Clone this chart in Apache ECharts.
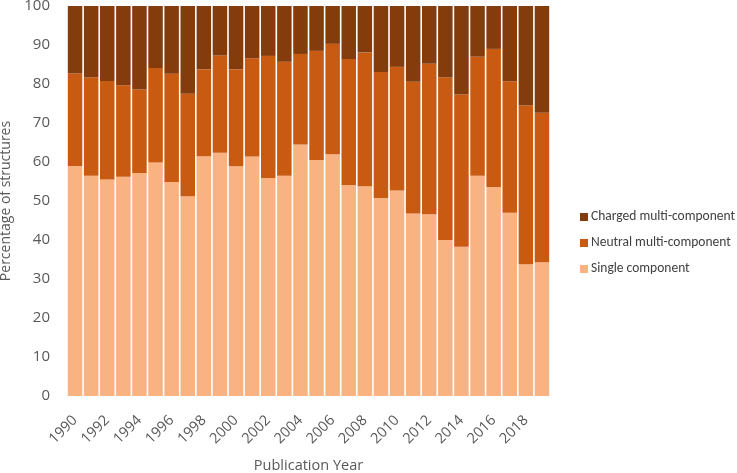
<!DOCTYPE html>
<html>
<head>
<meta charset="utf-8">
<script src="https://cdn.jsdelivr.net/npm/echarts@6/dist/echarts.min.js"></script>
<style>html,body{margin:0;padding:0;background:#fff}#c{width:737px;height:473px}</style>
</head>
<body>
<div id="c"></div>
<script>
const years = ['1990','1991','1992','1993','1994','1995','1996','1997','1998','1999','2000','2001','2002','2003','2004','2005','2006','2007','2008','2009','2010','2011','2012','2013','2014','2015','2016','2017','2018','2019'];
const single  = [59.0,56.5,55.5,56.2,57.2,59.9,54.9,51.2,61.5,62.4,58.9,61.4,55.9,56.5,64.5,60.5,62.0,54.1,53.8,50.8,52.7,46.8,46.6,40.0,38.3,56.5,53.6,47.0,33.8,34.3];
const neutral = [23.7,25.2,25.3,23.5,21.4,24.2,27.7,26.3,22.3,24.9,24.9,25.2,31.3,29.2,23.2,28.0,28.3,32.3,34.3,32.3,31.7,33.8,38.6,41.7,39.0,30.5,35.4,33.7,40.7,38.3];
const charged = [17.3,18.3,19.2,20.3,21.4,15.9,17.4,22.5,16.2,12.7,16.2,13.4,12.8,14.3,12.3,11.5,9.7,13.6,11.9,16.9,15.6,19.4,14.8,18.3,22.7,13.0,11.0,19.3,25.5,27.4];
const yTicks = [0,10,20,30,40,50,60,70,80,90,100];

const chart = echarts.init(document.getElementById('c'), null, {renderer:'canvas'});
const font = "'Open Sans', 'Noto Sans', sans-serif";
chart.setOption({
  animation:false,
  grid:{left:67,right:187,top:6,bottom:77,containLabel:false,outerBoundsMode:'none'},
  legend:{
    orient:'vertical', left:575, top:205, itemWidth:8, itemHeight:8, itemGap:12,
    icon:'rect',
    textStyle:{fontFamily:"Carlito, Lato, sans-serif",fontSize:13.5,color:'#404040',padding:[0,0,0,-2]},
    data:['Charged multi-component','Neutral multi-component','Single component']
  },
  xAxis:{
    type:'category', data:years,
    axisLine:{show:false}, axisTick:{show:false},
    axisLabel:{interval:1, rotate:45, fontFamily:font, fontSize:14.5, color:'#595959', margin:22},
    name:'Publication Year', nameLocation:'middle', nameGap:62,
    nameTextStyle:{fontFamily:font,fontSize:14.5,color:'#595959'}
  },
  yAxis:{
    type:'value', min:0, max:100, interval:10,
    axisLine:{show:false}, axisTick:{show:false},
    splitLine:{show:false},
    axisLabel:{fontFamily:font,fontSize:15,color:'#595959',margin:17,
      formatter:v=>yTicks.includes(v)?String(v):''},
    name:'Percentage of structures', nameLocation:'middle', nameGap:53,
    nameTextStyle:{fontFamily:font,fontSize:14,color:'#595959'}
  },
  series:[
    {name:'Single component',type:'bar',stack:'s',data:single,barCategoryGap:'10%',itemStyle:{color:'#F9B282'}},
    {name:'Neutral multi-component',type:'bar',stack:'s',data:neutral,itemStyle:{color:'#C85A12'}},
    {name:'Charged multi-component',type:'bar',stack:'s',data:charged,itemStyle:{color:'#843C0C'}}
  ]
});
</script>
</body>
</html>
